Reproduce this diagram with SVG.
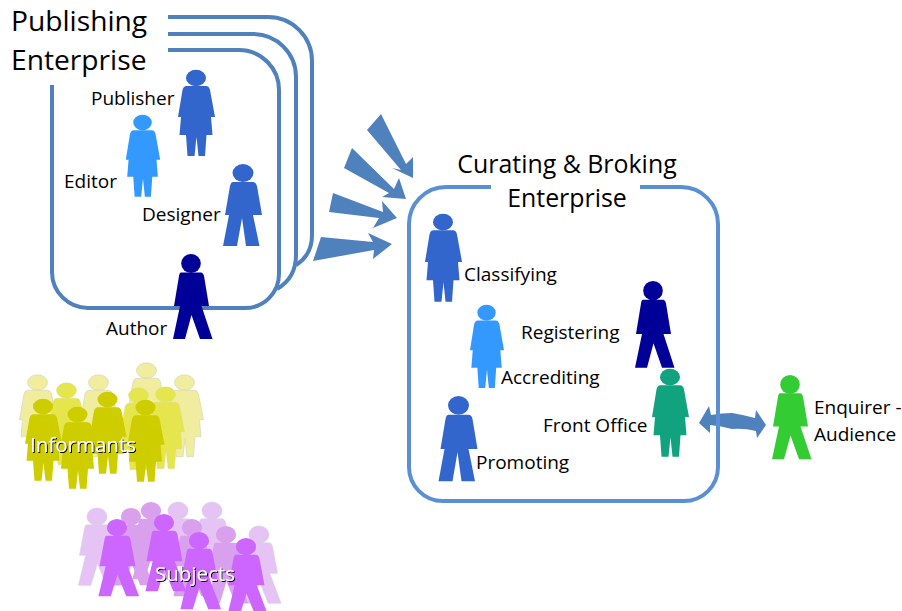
<svg xmlns="http://www.w3.org/2000/svg" width="902" height="611" viewBox="0 0 902 611">
<style>
text{font-family:"Open Sans","Noto Sans","Liberation Sans",sans-serif;fill:#000}
.big{font-size:28.2px}
.mid{font-size:24.9px;text-anchor:middle}
.lab{font-size:19px}
.ov{font-size:20.5px;fill:#fff;filter:url(#sh)}
.box{fill:none;stroke:#4f81bd;stroke-width:4}
.cbox{fill:none;stroke:#5b8fd4;stroke-width:4}
.wedge{fill:#4f81bd}
.l1{fill:#f0ee9e;stroke:#cfcfc0;stroke-width:.6}
.l2{fill:#e5e54d;stroke:#d8d8a0;stroke-width:.4}
.l3{fill:#cdcd00}
.p1{fill:#e6c3f5;stroke:#d8d0dc;stroke-width:.6}
.p2{fill:#d9a0ee}
.p3{fill:#cc66ff}
</style>
<defs>
<filter id="sh" x="-10%" y="-30%" width="125%" height="170%"><feDropShadow dx="1" dy="1" stdDeviation=".6" flood-color="#000" flood-opacity="1"/></filter>
<g id="woman"><ellipse cx="-.5" cy="8" rx="10" ry="8.2"/><path d="M-10,16H9.5Q12.5,16 13.5,20L18.5,47H14.5L16,65H10L8.5,86H2L0,67L-2,86H-9L-10.5,65H-17L-15.5,47H-18.5L-14,20Q-13,16 -10,16Z"/></g>
<g id="man"><ellipse cx="0" cy="9" rx="10.5" ry="9"/><path d="M-10,18H10Q13,18 14,22L19,51H10L16.5,82H3L-1,54L-6,82H-20L-14,51H-18L-13,22Q-12,18 -10,18Z"/></g>
<g id="walker"><ellipse cx="-1" cy="9.5" rx="9.8" ry="9.6"/><path d="M-11,18.5H9Q11,18.5 12,22L17,52H9.5L20.5,85H8L-.5,61L-7,85H-19L-12,52H-18L-13,22Q-12.5,18.5 -11,18.5Z"/></g>
</defs>
<g id="connectors">
<path class="wedge" d="M321,237L373,242L368,233L392,244L373,259L374,250L313,261Z"/>
<path class="wedge" d="M333,193L383,212L382,201L397,218L373,228L379,218L329,212Z"/>
<path class="wedge" d="M352,148L394,189L399,178L406,199L382,197L389,193L344,168Z"/>
<path class="wedge" d="M381,114L406,164L413,157L413,178L392,168L401,170L367,130Z"/>
<path class="wedge" d="M699,423L709,406L711,415Q722,413 732,413Q744,415 755,418L756,410L766,425L757,438L756,431Q744,428 732,429Q721,426 710,425L710,433Z"/>
</g>
<g id="publishing-enterprise">
<path class="box" d="M168,17H268A44,44 0 0 1 312,61V235Q312,255 296,265"/>
<path class="box" d="M168,34H253A43,43 0 0 1 296,77V255Q296,278 277,289"/>
<path class="box" d="M52,85V272A36,36 0 0 0 88,308H245A34,34 0 0 0 279,274V90A40,40 0 0 0 239,50H168"/>
<text class="big" x="11" y="31">Publishing</text>
<text class="big" x="11" y="70">Enterprise</text>
</g>
<g id="curating-enterprise">
<path class="cbox" d="M491,187H446A37,37 0 0 0 409,224V467A34,34 0 0 0 443,501H684A34,34 0 0 0 718,467V224A37,37 0 0 0 681,187H640"/>
<text class="mid" x="567" y="173">Curating &amp; Broking</text>
<text class="mid" x="567" y="207">Enterprise</text>
</g>
<g id="publisher"><use href="#woman" fill="#3366cc" transform="translate(196.5,70)"/><text class="lab" x="91" y="105">Publisher</text></g>
<g id="editor"><use href="#woman" fill="#3399ff" transform="translate(143,115) scale(.93,.95)"/><text class="lab" x="64" y="188">Editor</text></g>
<g id="designer"><use href="#man" fill="#3366cc" transform="translate(243,164)"/><text class="lab" x="142" y="221">Designer</text></g>
<g id="author"><use href="#walker" fill="#000099" transform="translate(192,254)"/><text class="lab" x="106" y="335">Author</text></g>
<g id="classifying"><use href="#woman" fill="#3366cc" transform="translate(443.5,214) scale(1,1.02)"/><text class="lab" x="464" y="281">Classifying</text></g>
<g id="registering"><use href="#walker" fill="#000099" transform="translate(654,281) scale(1,1.02)"/><text class="lab" x="521" y="339">Registering</text></g>
<g id="accrediting"><use href="#woman" fill="#3399ff" transform="translate(487,305) scale(.92,.965)"/><text class="lab" x="501" y="384">Accrediting</text></g>
<g id="front-office"><use href="#woman" fill="#11a37f" transform="translate(670.5,369) scale(1,1.02)"/><text class="lab" x="543" y="432">Front Office</text></g>
<g id="promoting"><use href="#man" fill="#3366cc" transform="translate(458.5,396) scale(1,1.04)"/><text class="lab" x="476" y="469">Promoting</text></g>
<g id="enquirer"><use href="#walker" fill="#33cc33" transform="translate(791,375) scale(1,.99)"/><text class="lab" x="814" y="414">Enquirer -</text><text class="lab" x="814" y="441">Audience</text></g>
<g id="informants">
<use href="#woman" class="l1" transform="translate(38,375) scale(1,.95)"/>
<use href="#woman" class="l1" transform="translate(99,375) scale(1,.95)"/>
<use href="#woman" class="l1" transform="translate(147,363) scale(1,.95)"/>
<use href="#woman" class="l1" transform="translate(185,375) scale(1,.95)"/>
<use href="#woman" class="l2" transform="translate(67,383) scale(1,.95)"/>
<use href="#woman" class="l2" transform="translate(139,388) scale(1,.95)"/>
<use href="#woman" class="l2" transform="translate(166,387) scale(1,.95)"/>
<use href="#woman" class="l3" transform="translate(43.5,399) scale(1,.95)"/>
<use href="#woman" class="l3" transform="translate(108,392) scale(1,.95)"/>
<use href="#woman" class="l3" transform="translate(146,400) scale(1,.95)"/>
<use href="#woman" class="l3" transform="translate(78,407) scale(1,.95)"/>
<text class="ov" x="30" y="452">Informants</text>
</g>
<g id="subjects">
<use href="#walker" class="p1" transform="translate(98,508) scale(1.03,.91)"/>
<use href="#walker" class="p1" transform="translate(179,502) scale(1.03,.91)"/>
<use href="#walker" class="p1" transform="translate(213,502) scale(1.03,.91)"/>
<use href="#walker" class="p1" transform="translate(260,526) scale(1.03,.91)"/>
<use href="#walker" class="p2" transform="translate(132,508) scale(1.03,.91)"/>
<use href="#walker" class="p2" transform="translate(152,502) scale(1.03,.91)"/>
<use href="#walker" class="p2" transform="translate(193,519) scale(1.03,.91)"/>
<use href="#walker" class="p2" transform="translate(227,526) scale(1.03,.91)"/>
<use href="#walker" class="p3" transform="translate(118,519) scale(1.03,.91)"/>
<use href="#walker" class="p3" transform="translate(165,514) scale(1.03,.91)"/>
<use href="#walker" class="p3" transform="translate(200,532) scale(1.03,.91)"/>
<use href="#walker" class="p3" transform="translate(247,538) scale(1.03,.91)"/>
<text class="ov" x="155" y="581">Subjects</text>
</g>
</svg>
